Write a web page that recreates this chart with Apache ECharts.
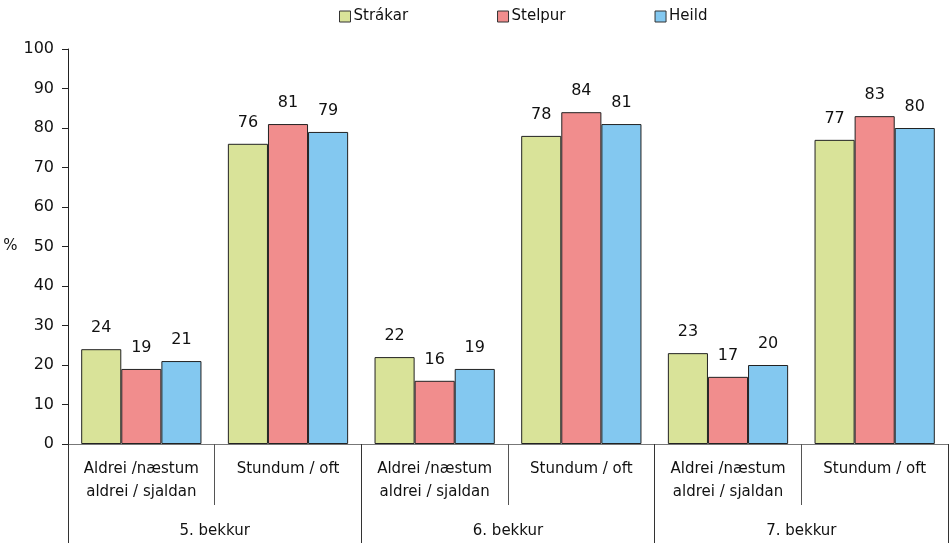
<!DOCTYPE html>
<html>
<head>
<meta charset="utf-8">
<script src="https://cdn.jsdelivr.net/npm/echarts@6/dist/echarts.min.js"></script>
<style>html,body{margin:0;padding:0;background:#fff}#c{width:949px;height:543px}</style>
</head>
<body>
<div id="c"></div>
<script>
const categories = ['Aldrei /næstum\naldrei / sjaldan', 'Stundum / oft', 'Aldrei /næstum\naldrei / sjaldan', 'Stundum / oft', 'Aldrei /næstum\naldrei / sjaldan', 'Stundum / oft'];
const groups = ['5. bekkur', '6. bekkur', '7. bekkur'];
const seriesNames = ['Strákar', 'Stelpur', 'Heild'];
const strakar = [24, 76, 22, 78, 23, 77];
const stelpur = [19, 81, 16, 84, 17, 83];
const heild = [21, 79, 19, 81, 20, 80];
const colors = ['#D9E399', '#F18D8D', '#83C8F0'];

const FONT = 'DejaVu Sans';
const chart = echarts.init(document.getElementById('c'));
const mk = (name, data, color) => ({
  name, type: 'bar', data, xAxisIndex: 0,
  barGap: '0%', barCategoryGap: '18%',
  itemStyle: { color, borderColor: '#222', borderWidth: 1 },
  label: { show: true, position: 'top', distance: 13, color: '#111', fontFamily: FONT, fontSize: 16 }
});
chart.setOption({
  animation: false,
  textStyle: { fontFamily: FONT },
  legend: {
    top: 4, left: 334, itemGap: 89, itemWidth: 11, itemHeight: 11,
    icon: 'rect',
    textStyle: { fontFamily: FONT, fontSize: 15, color: '#111', padding: [0, 0, 0, -2] },
    itemStyle: { borderColor: '#333', borderWidth: 1 },
    data: seriesNames
  },
  grid: { left: 68, right: 1, top: 49, bottom: 99, containLabel: false },
  xAxis: [
    {
      type: 'category', data: categories, position: 'bottom',
      axisLine: { show: true, lineStyle: { color: '#777', width: 1 } },
      axisTick: { show: true, interval: 0, length: 61, lineStyle: { color: '#555' } },
      axisLabel: { interval: 0, margin: 14, fontFamily: FONT, fontSize: 15, color: '#111', lineHeight: 23 }
    },
    {
      type: 'category', data: groups, position: 'bottom',
      axisLine: { show: false },
      axisTick: { show: true, interval: 0, length: 99, lineStyle: { color: '#333' } },
      axisLabel: { interval: 0, margin: 80, fontFamily: FONT, fontSize: 15, color: '#111' }
    }
  ],
  yAxis: {
    type: 'value', min: 0, max: 100, interval: 10,
    name: '%', nameLocation: 'middle', nameGap: 50, nameRotate: 0,
    nameTextStyle: { fontFamily: FONT, fontSize: 15, color: '#111' },
    axisLine: { show: true, lineStyle: { color: '#222' } },
    axisTick: { show: true, length: 6, lineStyle: { color: '#222' } },
    axisLabel: { margin: 14, fontFamily: FONT, fontSize: 16, color: '#111' },
    splitLine: { show: false }
  },
  series: [mk(seriesNames[0], strakar, colors[0]), mk(seriesNames[1], stelpur, colors[1]), mk(seriesNames[2], heild, colors[2])]
});
</script>
</body>
</html>
